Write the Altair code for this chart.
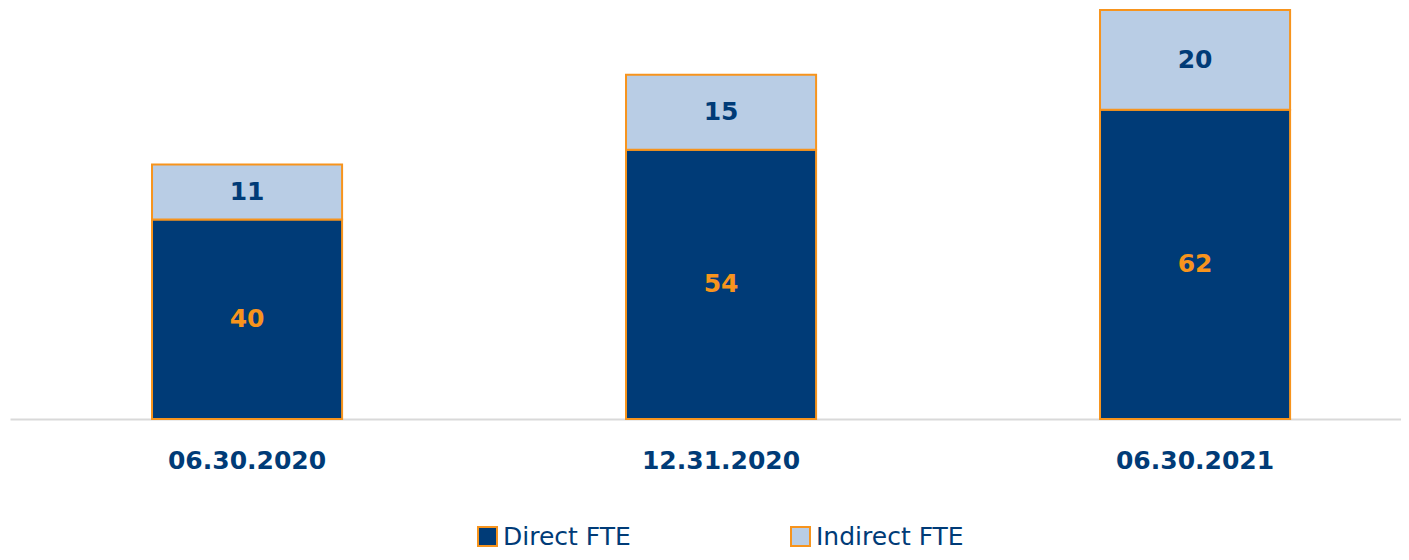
import altair as alt
import pandas as pd

dates = ["06.30.2020", "12.31.2020", "06.30.2021"]
series = ["Direct FTE", "Indirect FTE"]
direct = [40, 54, 62]
indirect = [11, 15, 20]

DARK = "#003B77"
LIGHT = "#B9CDE5"
ORANGE = "#F7941D"

rows = []
for i, d in enumerate(dates):
    rows.append({"date": d, "series": series[0], "value": direct[i], "ord": 0})
    rows.append({"date": d, "series": series[1], "value": indirect[i], "ord": 1})
df = pd.DataFrame(rows)

FONT = "DejaVu Sans"

base = alt.Chart(df).transform_stack(
    stack="value", as_=["v0", "v1"], groupby=["date"], sort=[{"field": "ord", "order": "ascending"}]
).transform_calculate(mid="(datum.v0 + datum.v1) / 2")

x = alt.X(
    "date:N",
    sort=dates,
    title=None,
    scale=alt.Scale(paddingInner=0.599, paddingOuter=0.2668, align=0.5615, round=False),
    axis=alt.Axis(
        labelAngle=0,
        labelFont=FONT,
        labelFontSize=25,
        labelFontWeight="bold",
        labelColor=DARK,
        labelPadding=29,
        ticks=False,
        domainColor="#D9D9D9",
        domainWidth=2,
    ),
)

bars = base.mark_bar(stroke=ORANGE, strokeWidth=2).encode(
    x=x,
    y=alt.Y("v0:Q", scale=alt.Scale(domain=[0, 82], nice=False, zero=True), axis=None),
    y2="v1:Q",
    color=alt.Color(
        "series:N",
        scale=alt.Scale(domain=series, range=[DARK, LIGHT]),
        legend=alt.Legend(
            title=None,
            orient="none",
            legendX=465,
            legendY=514,
            direction="horizontal",
            symbolType="square",
            symbolSize=361,
            symbolStrokeColor=ORANGE,
            symbolStrokeWidth=2,
            symbolOpacity=1,
            labelFont=FONT,
            labelFontSize=25,
            labelColor=DARK,
            labelOffset=3,
            labelLimit=300,
            columnPadding=156,
        ),
    ),
    order=alt.Order("ord:Q"),
)

labels = base.mark_text(font=FONT, fontSize=25, fontWeight="bold", baseline="middle", align="center").encode(
    x=alt.X("date:N", sort=dates),
    y=alt.Y("mid:Q"),
    text=alt.Text("value:Q"),
    color=alt.condition(alt.datum.series == "Direct FTE", alt.value(ORANGE), alt.value(DARK)),
)

chart = (
    alt.layer(bars, labels)
    .properties(
        width=1391,
        height=409,
        autosize=alt.AutoSizeParams(type="none"),
        padding={"left": 2, "top": 2, "right": 0, "bottom": 133},
        background="white",
    )
    .configure_view(stroke=None)
)

chart.save("out.html", embed_options={"renderer": "svg", "actions": False})
